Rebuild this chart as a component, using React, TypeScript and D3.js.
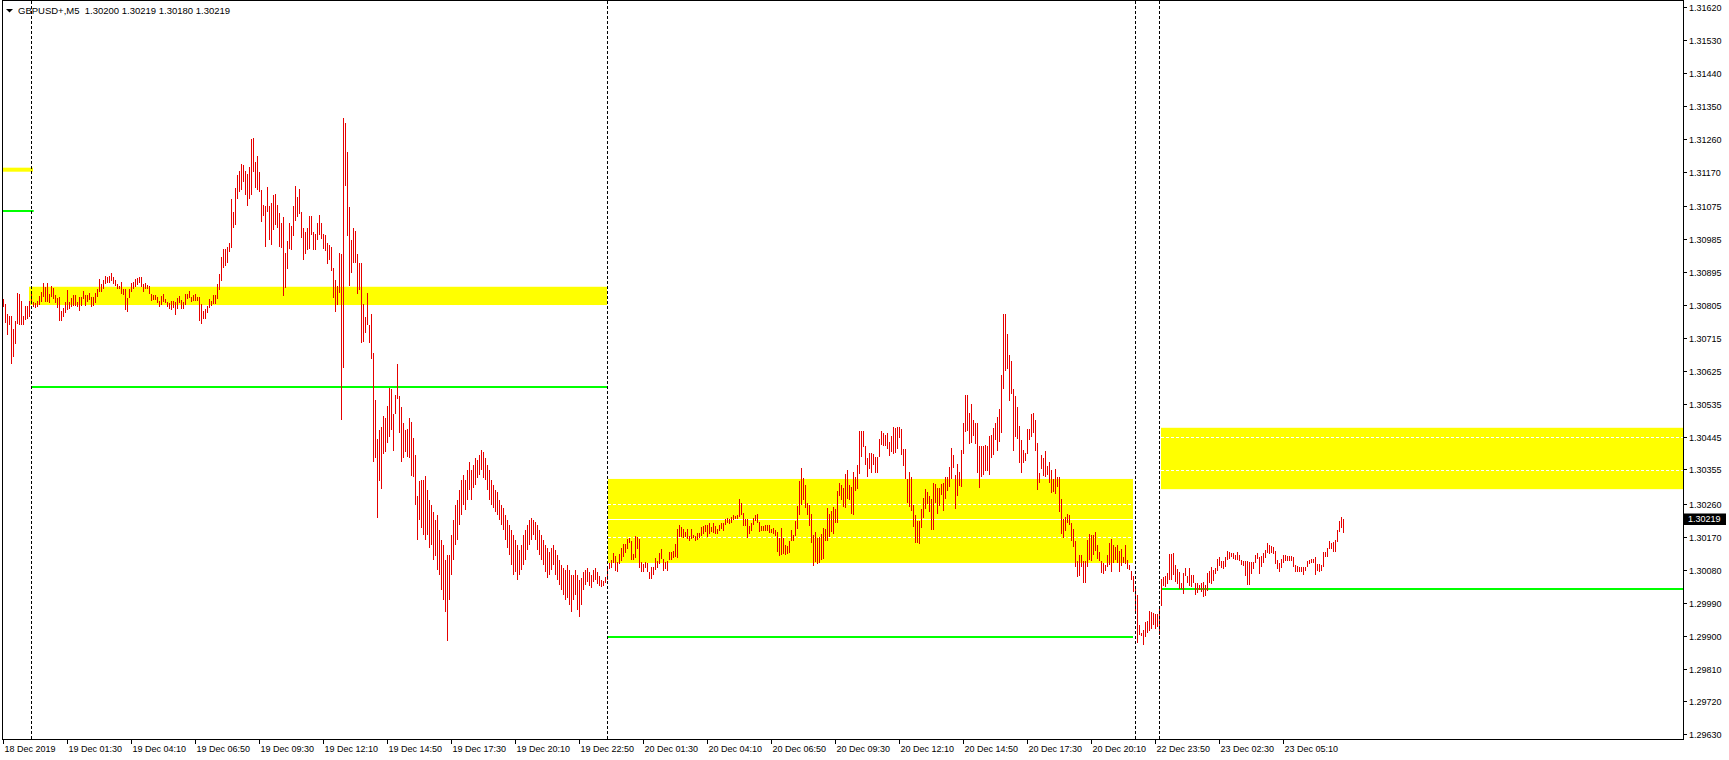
import React from "react";
import * as d3 from "d3";

// ---- DATA (prices in points: 130219 = 1.30219) ----
const barHigh = [
130822,130808,130781,130775,130775,130740,130762,130838,130834,130816,
130775,130803,130803,130816,130841,130812,130811,130816,130830,130841,
130866,130855,130866,130835,130857,130852,130833,130824,130827,130789,
130798,130814,130846,130814,130823,130833,130833,130814,130827,130827,
130844,130833,130833,130838,130827,130827,130838,130850,130876,130863,
130874,130885,130883,130885,130892,130883,130874,130863,130857,130868,
130848,130850,130824,130850,130865,130868,130876,130880,130883,130883,
130863,130865,130859,130857,130835,130832,130832,130826,130815,130830,
130834,130822,130812,130810,130815,130815,130812,130824,130830,130819,
130812,130835,130835,130844,130827,130833,130835,130827,130827,130809,
130790,130795,130803,130822,130816,130833,130833,130863,130891,130937,
130959,130959,130964,130974,131095,131060,131125,131161,131172,131191,
131188,131173,131164,131182,131260,131262,131197,131213,131169,131120,
131080,131076,131128,131076,131085,131106,131110,131078,131056,131030,
131047,130948,130981,131030,131021,131076,131131,131101,131123,131060,
131016,131006,131016,131049,131049,131005,130999,131030,131052,131030,
130999,130997,130975,130969,130964,130906,130874,130858,130947,130946,
131317,131303,131224,131072,130983,131016,131008,130945,130921,130921,
130808,130772,130839,130751,130781,130675,130546,130438,130463,130471,
130501,130496,130529,130579,130576,130508,130560,130644,130557,130527,
130483,130464,130467,130497,130485,130442,130394,130283,130324,130326,
130326,130337,130299,130272,130258,130239,130217,130231,130189,130162,
130148,130107,130121,130121,130176,130217,130258,130272,130299,130326,
130340,130326,130354,130376,130354,130367,130386,130381,130395,130408,
130403,130386,130367,130354,130326,130313,130299,130294,130272,130258,
130250,130231,130217,130203,130189,130176,130162,130148,130135,130148,
130176,130189,130203,130217,130222,130217,130211,130203,130189,130176,
130162,130148,130140,130129,130140,130148,130135,130121,130107,130094,
130085,130080,130094,130080,130066,130066,130080,130066,130053,130058,
130075,130080,130085,130075,130066,130080,130085,130075,130064,130053,
130050,130061,130092,130098,130107,130126,130118,130103,130123,130140,
130151,130151,130164,130166,130160,130124,130173,130169,130164,130103,
130096,130102,130098,130074,130089,130089,130113,130105,130126,130137,
130109,130103,130105,130129,130130,130132,130151,130193,130202,130197,
130191,130184,130191,130173,130191,130175,130173,130180,130182,130198,
130200,130203,130202,130209,130198,130208,130200,130193,130202,130208,
130209,130219,130222,130219,130224,130230,130228,130231,130273,130262,
130235,130220,130220,130200,130209,130222,130230,130233,130211,130200,
130200,130204,130202,130204,130193,130195,130189,130184,130166,130195,
130166,130148,130146,130160,130189,130176,130213,130255,130324,130359,
130332,130313,130262,130257,130233,130175,130184,130167,130171,130177,
130195,130193,130250,130233,130242,130252,130248,130297,130319,130312,
130304,130343,130354,130313,130308,130348,130335,130368,130461,130461,
130461,130419,130385,130401,130399,130396,130388,130390,130439,130460,
130454,130450,130454,130430,130447,130472,130469,130472,130472,130467,
130412,130412,130328,130348,130335,130259,130230,130213,130215,130248,
130277,130302,130293,130282,130275,130317,130315,130304,130304,130315,
130319,130335,130335,130363,130414,130394,130339,130370,130348,130408,
130483,130560,130560,130510,130534,130489,130481,130481,130419,130419,
130419,130421,130419,130447,130449,130469,130481,130498,130521,130614,
130781,130781,130726,130669,130651,130576,130556,130525,130474,130436,
130408,130399,130467,130467,130507,130509,130489,130427,130346,130394,
130386,130406,130365,130376,130354,130328,130355,130335,130335,130275,
130220,130226,130233,130231,130208,130193,130160,130104,130122,130120,
130105,130105,130162,130178,130175,130175,130184,130149,130129,130104,
130100,130093,130122,130155,130164,130148,130144,130148,130133,130138,
130115,130148,130107,130093,130078,130062,130031,130012,129929,129908,
129916,129938,129941,129967,129965,129961,129958,129958,129981,130055,
130060,130062,130071,130124,130124,130126,130093,130083,130074,130045,
130071,130085,130064,130085,130065,130067,130044,130044,130040,130045,
130047,130040,130072,130078,130089,130080,130085,130111,130116,130105,
130104,130116,130131,130129,130126,130127,130122,130129,130122,130107,
130104,130104,130104,130102,130102,130102,130120,130127,130115,130118,
130127,130135,130153,130148,130146,130142,130133,130107,130098,130109,
130120,130120,130118,130118,130118,130116,130093,130091,130089,130089,
130089,130089,130104,130107,130109,130109,130115,130096,130096,130093,
130129,130129,130140,130158,130153,130157,130162,130189,130215,130224,
130219
];

const barLow = [
130801,130757,130724,130749,130643,130664,130699,130754,130749,130749,
130751,130763,130768,130772,130811,130801,130797,130801,130805,130814,
130828,130814,130814,130811,130827,130822,130811,130798,130760,130760,
130771,130783,130792,130794,130801,130803,130803,130801,130789,130803,
130822,130803,130812,130820,130801,130803,130811,130826,130841,130842,
130850,130863,130866,130865,130871,130863,130857,130850,130848,130834,
130833,130792,130785,130823,130841,130850,130855,130859,130865,130855,
130841,130850,130850,130835,130817,130819,130819,130810,130801,130805,
130812,130810,130801,130794,130792,130796,130778,130794,130810,130794,
130795,130806,130822,130824,130814,130815,130815,130815,130760,130752,
130768,130768,130784,130798,130803,130809,130809,130822,130846,130871,
130907,130913,130920,130950,130962,131017,131024,131095,131115,131120,
131141,131107,131076,131095,131106,131169,131125,131120,131115,131033,
131049,130965,131061,130982,130969,131010,131023,131016,130965,130962,
130830,130853,130905,130958,130956,130993,131036,131047,131053,130988,
130929,130945,130956,130959,130998,130956,130956,130983,130998,130985,
130958,130952,130916,130929,130899,130824,130787,130805,130839,130491,
130634,131131,130994,130858,130894,130921,130921,130836,130847,130702,
130705,130729,130751,130702,130656,130374,130387,130222,130324,130302,
130398,130404,130428,130443,130464,130406,130508,130549,130456,130376,
130387,130404,130390,130387,130336,130335,130258,130162,130217,130195,
130176,130162,130176,130140,130148,130107,130118,130080,130066,130025,
129998,129965,129886,129998,130066,130107,130148,130162,130203,130230,
130258,130244,130272,130299,130272,130304,130313,130332,130340,130354,
130332,130326,130299,130272,130258,130250,130239,130231,130217,130203,
130189,130162,130140,130121,130094,130066,130075,130053,130066,130080,
130094,130107,130135,130148,130162,130176,130162,130135,130121,130107,
130094,130075,130058,130066,130080,130094,130066,130053,130039,130025,
130012,129998,130003,129984,129965,129998,130012,129970,129951,129984,
130025,130039,130047,130036,130031,130047,130053,130042,130036,130034,
130036,130044,130051,130083,130086,130098,130078,130073,130096,130105,
130115,130126,130137,130155,130107,130107,130113,130137,130086,130073,
130073,130085,130074,130056,130056,130067,130080,130086,130097,130109,
130078,130083,130078,130107,130107,130113,130115,130113,130169,130169,
130166,130169,130164,130158,130164,130167,130160,130162,130166,130173,
130177,130184,130169,130177,130184,130180,130178,130177,130187,130191,
130187,130202,130208,130206,130209,130217,130220,130219,130226,130230,
130200,130200,130166,130178,130187,130204,130213,130208,130184,130187,
130186,130187,130186,130182,130182,130177,130173,130129,130118,130120,
130124,130122,130124,130127,130160,130160,130173,130193,130230,130257,
130272,130250,130231,130200,130153,130091,130102,130096,130098,130107,
130109,130160,130160,130169,130184,130177,130208,130208,130281,130272,
130252,130250,130275,130272,130233,130231,130295,130301,130343,130388,
130417,130368,130334,130357,130346,130368,130346,130346,130390,130421,
130419,130419,130410,130392,130403,130396,130399,130412,130441,130394,
130365,130328,130264,130252,130242,130198,130155,130153,130151,130195,
130222,130248,130261,130239,130189,130189,130264,130233,130255,130286,
130242,130273,130297,130308,130330,130359,130248,130282,130310,130308,
130396,130458,130461,130425,130427,130447,130425,130346,130304,130334,
130339,130352,130352,130339,130386,130394,130436,130405,130430,130454,
130574,130624,130629,130543,130562,130405,130445,130438,130372,130346,
130372,130379,130397,130436,130445,130456,130405,130299,130319,130356,
130337,130335,130341,130319,130291,130293,130288,130306,130239,130178,
130166,130187,130209,130202,130160,130144,130089,130060,130062,130089,
130045,130045,130089,130107,130104,130120,130131,130109,130105,130071,
130069,130076,130087,130093,130073,130100,130107,130098,130074,130091,
130098,130096,130083,130080,130051,130020,129965,129879,129901,129899,
129874,129897,129907,129912,129918,129929,129919,129925,129903,129980,
130036,130033,130042,130053,130053,130066,130047,130042,130028,130027,
130014,130062,130044,130036,130034,130045,130012,130018,130025,130020,
130007,130009,130021,130043,130042,130049,130069,130078,130091,130085,
130083,130089,130107,130111,130115,130109,130107,130107,130104,130093,
130091,130062,130040,130040,130069,130082,130098,130109,130069,130089,
130100,130113,130126,130124,130126,130124,130096,130083,130074,130085,
130100,130105,130104,130104,130105,130089,130073,130074,130074,130073,
130067,130078,130089,130095,130098,130100,130067,130076,130074,130076,
130087,130115,130116,130137,130138,130129,130129,130157,130184,130195,
130180
];

const xTickLabels = [
  "18 Dec 2019", "19 Dec 01:30", "19 Dec 04:10", "19 Dec 06:50", "19 Dec 09:30",
  "19 Dec 12:10", "19 Dec 14:50", "19 Dec 17:30", "19 Dec 20:10", "19 Dec 22:50",
  "20 Dec 01:30", "20 Dec 04:10", "20 Dec 06:50", "20 Dec 09:30", "20 Dec 12:10",
  "20 Dec 14:50", "20 Dec 17:30", "20 Dec 20:10", "22 Dec 23:50", "23 Dec 02:30",
  "23 Dec 05:10"
];
const barsPerTick = 32;

const yTickLabels = [
  "1.31620", "1.31530", "1.31440", "1.31350", "1.31260", "1.31170", "1.31075",
  "1.30985", "1.30895", "1.30805", "1.30715", "1.30625", "1.30535", "1.30445",
  "1.30355", "1.30260", "1.30170", "1.30080", "1.29990", "1.29900", "1.29810",
  "1.29720", "1.29630"
];

// day separators (bar index)
const separatorBars = [14, 302, 566, 578];

// yellow zones
const zoneTop = [131181, 130855, 130329, 130469];
const zoneBottom = [131170, 130805, 130099, 130301];
const zoneFrom = [0, 13, 302.5, 579];
const zoneTo = [15, 302, 565, 840];

// green levels
const greenLevel = [131062, 130581, 129896, 130029];
const greenFrom = [0, 14, 302, 579];
const greenTo = [15.35, 302, 565, 840];

// white dashed levels inside zones
const dashLevel = [130805, 130260, 130169, 130443, 130354];
const dashFrom = [13, 302.5, 302.5, 579, 579];
const dashTo = [302, 565, 565, 840, 840];

const bidPrice = 130219;
const symbolLabel = "GBPUSD+,M5";
const ohlcLabels = ["1.30200", "1.30219", "1.30180", "1.30219"];

export default function App() {
  const W = 1729;
  const H = 760;
  const plotRight = 1683;
  const plotBottom = 739;
  const x = d3.scaleLinear().domain([0, 840]).range([3, 1683]);
  const y = d3.scaleLinear().domain([129630, 131620]).range([734.3, 7.3]);
  const font = "'Liberation Sans', Arial, sans-serif";
  const barColor = "#e60000";
  const yellow = "#ffff00";
  const green = "#00ff00";

  const nTicks = xTickLabels.length;

  return (
    <svg
      width={W}
      height={H}
      style={{ position: "absolute", left: 0, top: 0, display: "block", background: "#fff" }}
    >
      <rect x={0} y={0} width={W} height={H} fill="#fff" />

      {zoneTop.map((t, k) => (
        <rect
          key={"z" + k}
          x={x(zoneFrom[k])}
          y={y(t)}
          width={x(zoneTo[k]) - x(zoneFrom[k])}
          height={y(zoneBottom[k]) - y(t)}
          fill={yellow}
        />
      ))}

      {dashLevel.map((v, k) => (
        <line
          key={"d" + k}
          x1={x(dashFrom[k])}
          x2={x(dashTo[k])}
          y1={Math.round(y(v)) + 0.5}
          y2={Math.round(y(v)) + 0.5}
          stroke="#fff"
          strokeWidth={1}
          strokeDasharray="3,2"
          shapeRendering="crispEdges"
        />
      ))}

      <line
        x1={x(0)}
        x2={plotRight}
        y1={Math.round(y(bidPrice)) + 0.5}
        y2={Math.round(y(bidPrice)) + 0.5}
        stroke="#fff"
        strokeWidth={1}
        shapeRendering="crispEdges"
      />

      {greenLevel.map((v, k) => (
        <rect
          key={"g" + k}
          x={x(greenFrom[k])}
          y={Math.round(y(v)) - 1}
          width={x(greenTo[k]) - x(greenFrom[k])}
          height={2}
          fill={green}
        />
      ))}

      {barHigh.map((h, i) => {
        const y1 = y(h);
        const y2 = Math.max(y(barLow[i]), y1 + 1);
        return (
          <line
            key={"b" + i}
            x1={x(i) + 0.5}
            x2={x(i) + 0.5}
            y1={y1}
            y2={y2}
            stroke={barColor}
            strokeWidth={1}
            shapeRendering="crispEdges"
          />
        );
      })}

      {separatorBars.map((b, k) => (
        <line
          key={"s" + k}
          x1={x(b) + 0.5}
          x2={x(b) + 0.5}
          y1={1}
          y2={plotBottom}
          stroke="#000"
          strokeWidth={1}
          strokeDasharray="3,2"
          shapeRendering="crispEdges"
        />
      ))}

      <line x1={2.5} x2={2.5} y1={0} y2={plotBottom + 0.5} stroke="#000" shapeRendering="crispEdges" />
      <line x1={2} x2={plotRight + 1} y1={0.5} y2={0.5} stroke="#000" shapeRendering="crispEdges" />
      <line x1={plotRight + 0.5} x2={plotRight + 0.5} y1={0} y2={plotBottom + 1} stroke="#000" shapeRendering="crispEdges" />
      <line x1={2} x2={plotRight + 1} y1={plotBottom + 0.5} y2={plotBottom + 0.5} stroke="#000" shapeRendering="crispEdges" />

      <path d="M6,9 L13,9 L9.5,12.5 Z" fill="#000" />
      <text x={18} y={14} fontFamily={font} fontSize={9.5} fill="#000" style={{ whiteSpace: "pre" }}>
        {symbolLabel + "  " + ohlcLabels.join(" ")}
      </text>

      {yTickLabels.map((lab, k) => {
        const v = Math.round(parseFloat(lab) * 100000);
        const yy = Math.round(y(v)) + 0.5;
        return (
          <g key={"yt" + k}>
            <line x1={plotRight} x2={plotRight + 4} y1={yy} y2={yy} stroke="#000" shapeRendering="crispEdges" />
            <text x={1689} y={yy} dy="0.35em" fontFamily={font} fontSize={9} fill="#000">
              {lab}
            </text>
          </g>
        );
      })}

      <rect x={1684} y={Math.round(y(bidPrice)) - 5.5} width={42} height={11.5} fill="#000" />
      <text x={1688} y={y(bidPrice)} dy="0.35em" fontFamily={font} fontSize={9} fill="#fff">
        {(bidPrice / 100000).toFixed(5)}
      </text>

      {d3.range(nTicks).map((k) => {
        const xx = x(k * barsPerTick) + 0.5;
        return (
          <g key={"xt" + k}>
            <line x1={xx} x2={xx} y1={plotBottom} y2={plotBottom + 5} stroke="#000" shapeRendering="crispEdges" />
            <text x={xx + 1} y={752} fontFamily={font} fontSize={9} fill="#000">
              {xTickLabels[k]}
            </text>
          </g>
        );
      })}
    </svg>
  );
}
